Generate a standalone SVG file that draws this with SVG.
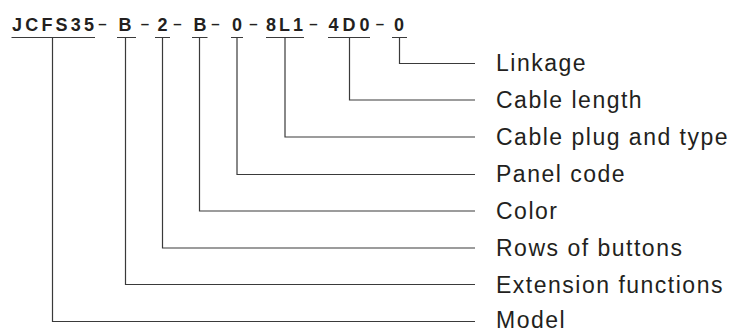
<svg xmlns="http://www.w3.org/2000/svg" width="734" height="332" viewBox="0 0 734 332">
<style>
.code{font-family:"Liberation Sans",Arial,sans-serif;font-size:18px;font-weight:bold;fill:#231f20;text-anchor:middle}
.dash{font-family:"Liberation Sans",Arial,sans-serif;font-size:15px;font-weight:bold;fill:#231f20;text-anchor:middle}
.lbl{font-family:"Liberation Sans",Arial,sans-serif;font-size:23px;fill:#231f20;letter-spacing:1.5px}
.ln{fill:none;stroke:#3a3a3a;stroke-width:1.2}
</style>
<rect width="734" height="332" fill="#fff"/>
<g id="code">
<text class="code" x="53" y="31" textLength="82" lengthAdjust="spacing">JCFS35</text>
<text class="dash" x="102.5" y="29">–</text>
<text class="code" x="125" y="31">B</text>
<text class="dash" x="145" y="29">–</text>
<text class="code" x="162.5" y="31">2</text>
<text class="dash" x="177.5" y="29">–</text>
<text class="code" x="200" y="31">B</text>
<text class="dash" x="215.5" y="29">–</text>
<text class="code" x="237" y="31">0</text>
<text class="dash" x="253.5" y="29">–</text>
<text class="code" x="284.5" y="31" textLength="37" lengthAdjust="spacing">8L1</text>
<text class="dash" x="313.5" y="29">–</text>
<text class="code" x="349" y="31" textLength="41" lengthAdjust="spacing">4D0</text>
<text class="dash" x="380" y="29">–</text>
<text class="code" x="399" y="31">0</text>
</g>
<g id="connectors">
<path class="ln" d="M11.5 37.5H95M117 37.5H136M155 37.5H170M192 37.5H207.5M231 37.5H243M266 37.5H304M328 37.5H370M392 37.5H407"/>
<path class="ln" d="M52.5 37.5V321.5H475"/>
<path class="ln" d="M125.5 37.5V284.5H475"/>
<path class="ln" d="M162.5 37.5V248H475"/>
<path class="ln" d="M199.5 37.5V211H475"/>
<path class="ln" d="M237 37.5V174.5H475"/>
<path class="ln" d="M285 37.5V137H475"/>
<path class="ln" d="M349.5 37.5V100H475"/>
<path class="ln" d="M399.5 37.5V63.5H475"/>
</g>
<g id="n-linkage"><text class="lbl" x="496" y="71">Linkage</text></g>
<g id="n-cable-length"><text class="lbl" x="496" y="108">Cable length</text></g>
<g id="n-cable-plug"><text class="lbl" x="496" y="145">Cable plug and type</text></g>
<g id="n-panel"><text class="lbl" x="496" y="182">Panel code</text></g>
<g id="n-color"><text class="lbl" x="496" y="219">Color</text></g>
<g id="n-rows"><text class="lbl" x="496" y="256">Rows of buttons</text></g>
<g id="n-ext"><text class="lbl" x="496" y="293">Extension functions</text></g>
<g id="n-model"><text class="lbl" x="496" y="328">Model</text></g>
</svg>
